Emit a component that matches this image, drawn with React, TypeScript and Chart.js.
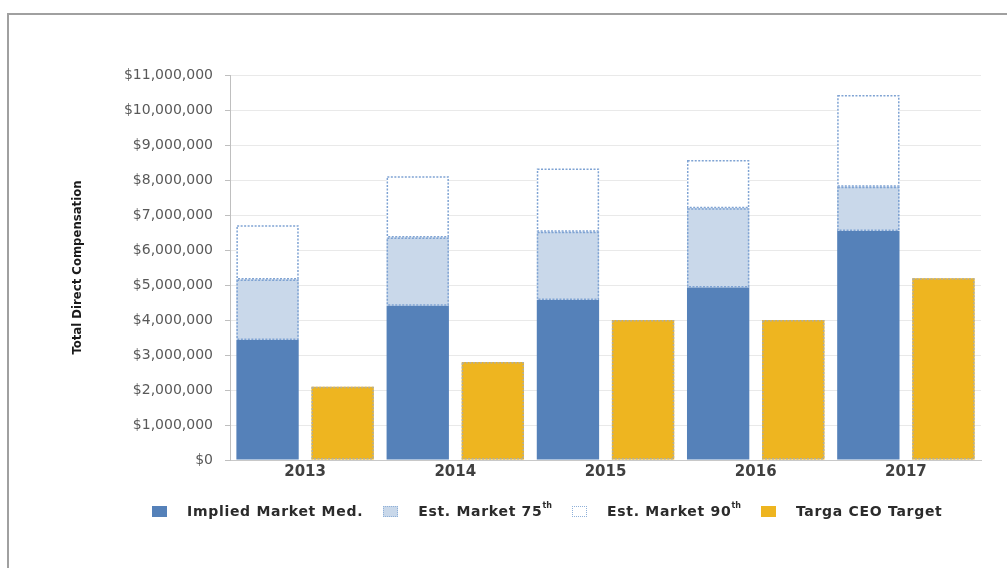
import React, { useEffect, useRef } from "react";
import { Chart, registerables } from "chart.js";

Chart.register(...registerables);

const years = ["2013", "2014", "2015", "2016", "2017"];
const impliedMedian = [3430000, 4410000, 4570000, 4930000, 6540000];
const market75th = [5160000, 6360000, 6520000, 7190000, 7810000];
const market90th = [6710000, 8110000, 8330000, 8570000, 10430000];
const ceoTarget = [2090000, 2800000, 4000000, 4000000, 5190000];
const yTicksMax = 11000000;
const yTicksStep = 1000000;

const seriesNames = ["Implied Market Med.", "Est. Market 75", "Est. Market 90", "Targa CEO Target"];
const seriesSup = ["", "th", "th", ""];
const seriesFill = ["#5581b9", "#c9d8ea", "#ffffff", "#eeb520"];
const seriesDot = ["", "#7fa3d3", "#7fa3d3", "#b0aea0"];

const dottedBorders = {
  id: "dottedBorders",
  afterDatasetsDraw(chart: any) {
    const ctx = chart.ctx;
    chart.data.datasets.forEach((ds: any, i: number) => {
      if (!ds.dotColor) return;
      const meta = chart.getDatasetMeta(i);
      meta.data.forEach((el: any) => {
        const { x, y, base, width } = el.getProps(["x", "y", "base", "width"], true);
        const left = x - width / 2;
        const top = Math.min(y, base);
        const h = Math.abs(base - y);
        ctx.save();
        ctx.strokeStyle = ds.dotColor;
        ctx.lineWidth = 1.5;
        ctx.setLineDash([2, 1.5]);
        ctx.strokeRect(left + 0.75, top + 0.75, width - 1.5, h - 1.5);
        ctx.restore();
      });
    });
  },
};

export default function App() {
  const canvasRef = useRef<HTMLCanvasElement>(null);

  useEffect(() => {
    const diff75 = market75th.map((v, i) => v - impliedMedian[i]);
    const diff90 = market90th.map((v, i) => v - market75th[i]);
    const chart = new Chart(canvasRef.current!, {
      type: "bar",
      data: {
        labels: years,
        datasets: [
          { label: seriesNames[0], data: impliedMedian, backgroundColor: seriesFill[0], stack: "market" },
          { label: seriesNames[1], data: diff75, backgroundColor: seriesFill[1], stack: "market", dotColor: seriesDot[1] } as any,
          { label: seriesNames[2], data: diff90, backgroundColor: seriesFill[2], stack: "market", dotColor: seriesDot[2] } as any,
          { label: seriesNames[3], data: ceoTarget, backgroundColor: seriesFill[3], stack: "ceo", dotColor: seriesDot[3] } as any,
        ],
      },
      options: {
        animation: false,
        responsive: false,
        maintainAspectRatio: false,
        layout: { padding: { left: 0, right: 26, top: 75, bottom: 0 } },
        datasets: { bar: { categoryPercentage: 1.0, barPercentage: 0.83 } },
        plugins: { legend: { display: false }, tooltip: { enabled: false } },
        scales: {
          x: {
            stacked: true,
            grid: { display: false, drawTicks: false },
            border: { display: true, color: "#c8c8c8", width: 1 },
            ticks: {
              padding: 3,
              color: "#404040",
              font: { family: "'DejaVu Sans', sans-serif", size: 15, weight: "bold" },
            },
            afterFit: (scale: any) => {
              scale.height = 108;
            },
          },
          y: {
            stacked: true,
            min: 0,
            max: yTicksMax,
            ticks: {
              stepSize: yTicksStep,
              padding: 12,
              color: "#595959",
              font: { family: "'DejaVu Sans', sans-serif", size: 14 },
              callback: (v: any) => "$" + Number(v).toLocaleString("en-US"),
            },
            grid: { color: "#e9e9e9", tickLength: 5, tickColor: "#bfbfbf" },
            border: { display: true, color: "#bfbfbf", width: 1 },
            title: {
              display: true,
              text: "Total Direct Compensation",
              color: "#1a1a1a",
              padding: { top: 70, bottom: 0 },
              font: { family: "'Liberation Sans Narrow', 'DejaVu Sans Condensed', sans-serif", size: 13, weight: "bold" },
            },
            afterFit: (scale: any) => {
              scale.width = 230;
            },
          },
        },
      },
      plugins: [dottedBorders],
    });
    return () => chart.destroy();
  }, []);

  return (
    <div style={{ position: "absolute", left: 0, top: 0, width: 1007, height: 568, background: "#fff", overflow: "hidden" }}>
      <div
        style={{
          position: "absolute",
          left: 7,
          top: 13,
          width: 1010,
          height: 570,
          borderLeft: "2px solid #a0a0a0",
          borderTop: "2px solid #a0a0a0",
        }}
      />
      <canvas ref={canvasRef} width={1007} height={568} style={{ position: "absolute", left: 0, top: 0 }} />
      <div
        style={{
          position: "absolute",
          left: 152,
          top: 503,
          display: "flex",
          alignItems: "center",
          fontFamily: "'DejaVu Sans', sans-serif",
          fontWeight: "bold",
          fontSize: 14,
          letterSpacing: "0.7px",
          color: "#2b2b2b",
          whiteSpace: "nowrap",
        }}
      >
        {seriesNames.map((name, i) => (
          <div key={name} style={{ display: "flex", alignItems: "center", marginRight: 20 }}>
            <span
              style={{
                display: "inline-block",
                width: 15,
                height: 11,
                boxSizing: "border-box",
                background: seriesFill[i],
                border: i === 1 || i === 2 ? "1px dotted #8fb0d8" : "none",
                marginRight: 20,
              }}
            />
            <span>
              {name}
              {seriesSup[i] ? (
                <sup style={{ fontSize: 8, letterSpacing: 0, verticalAlign: "top", position: "relative", top: -2 }}>{seriesSup[i]}</sup>
              ) : null}
            </span>
          </div>
        ))}
      </div>
    </div>
  );
}
